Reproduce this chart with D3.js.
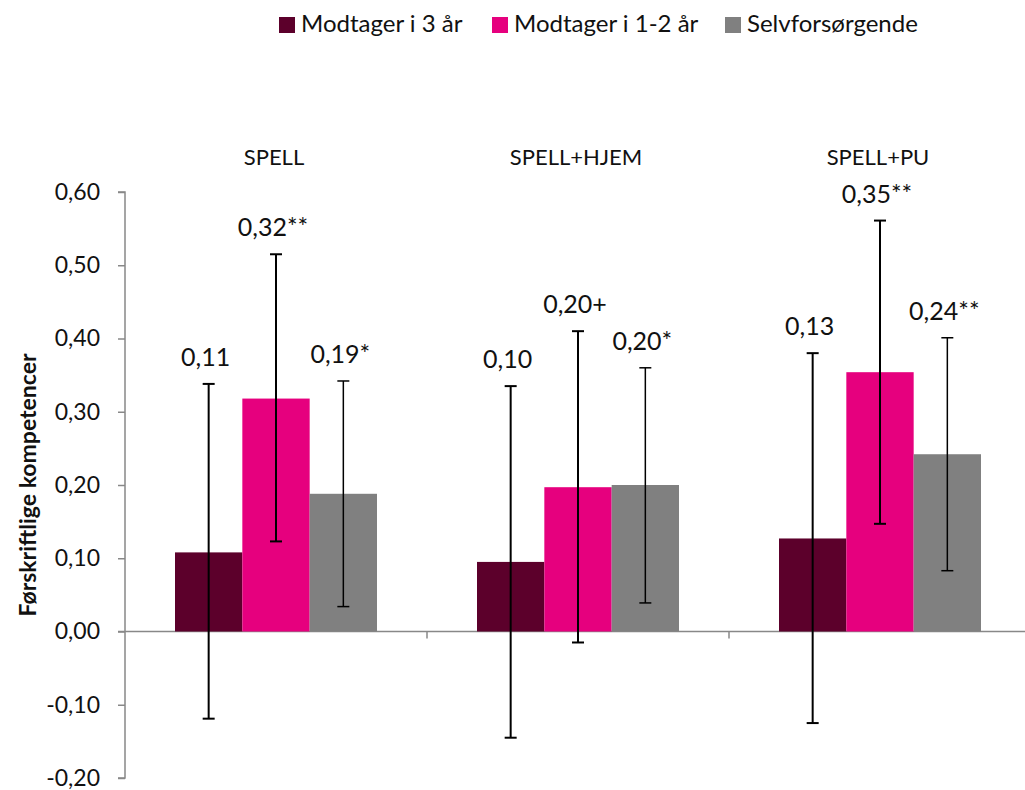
<!DOCTYPE html>
<html>
<head>
<meta charset="utf-8">
<script src="https://cdn.jsdelivr.net/npm/d3@7"></script>
<style>
  body { margin: 0; background: #fff; }
  text { font-family: Lato, "Open Sans", sans-serif; fill: #111; }
</style>
</head>
<body>
<svg id="chart" width="1025" height="790"></svg>
<script>
// data
const groups = ["SPELL", "SPELL+HJEM", "SPELL+PU"];
const series = ["Modtager i 3 år", "Modtager i 1-2 år", "Selvforsørgende"];
const colors = ["#5c002b", "#e6007e", "#808080"];

// values per series, one entry per group
const values = [
  [0.108, 0.095, 0.127],
  [0.318, 0.197, 0.354],
  [0.188, 0.200, 0.242]
];
const errLow = [
  [-0.119, -0.145, -0.125],
  [0.123, -0.015, 0.147],
  [0.034, 0.039, 0.083]
];
const errHigh = [
  [0.338, 0.335, 0.380],
  [0.515, 0.410, 0.561],
  [0.342, 0.360, 0.401]
];
const labels = [
  ["0,11", "0,10", "0,13"],
  ["0,32**", "0,20+", "0,35**"],
  ["0,19*", "0,20*", "0,24**"]
];
const yTicks = [-0.2, -0.1, 0, 0.1, 0.2, 0.3, 0.4, 0.5, 0.6];
const yTitle = "Førskriftlige kompetencer";

const svg = d3.select("#chart");

const y = d3.scaleLinear().domain([-0.2, 0.6]).range([778, 192]);
const x0 = d3.scaleBand().domain(groups).range([125, 1031]);
const x1 = d3.scaleBand().domain(series).range([50, x0.bandwidth() - 50]);

const fmt = d => d3.format(".2f")(d).replace(".", ",").replace("\u2212", "-");

// y axis
svg.append("g")
  .attr("transform", "translate(125,0)")
  .call(d3.axisLeft(y).tickValues(yTicks).tickSize(7).tickPadding(18).tickFormat(fmt))
  .call(g => g.selectAll("path, line").attr("stroke", "#888").attr("stroke-width", 1.5))
  .call(g => g.select(".domain").attr("d", "M-7,192H0V778H-7"))
  .call(g => g.selectAll("text").attr("font-size", 23).attr("fill", "#111"));

// x axis on zero
svg.append("g")
  .attr("transform", `translate(0,${y(0)})`)
  .call(d3.axisBottom(x0).tickSize(0).tickFormat(""))
  .call(g => g.select(".domain").attr("d", "M118,0H1025").attr("stroke", "#888").attr("stroke-width", 1.5))
  .call(g => g.selectAll(".tick").remove());

svg.append("g").selectAll("line")
  .data(groups.slice(1))
  .join("line")
  .attr("x1", d => x0(d)).attr("x2", d => x0(d))
  .attr("y1", y(0)).attr("y2", y(0) + 7)
  .attr("stroke", "#888").attr("stroke-width", 1.5);

// group titles
svg.append("g").selectAll("text")
  .data(groups)
  .join("text")
  .attr("x", d => x0(d) + x0.bandwidth() / 2 - 2)
  .attr("y", 165)
  .attr("text-anchor", "middle")
  .attr("font-size", 22)
  .text(d => d);

// bars, error bars and labels
series.forEach((s, si) => {
  const g = svg.append("g");
  const cx = gi => x0(groups[gi]) + x1(s) + x1.bandwidth() / 2;

  g.selectAll("rect")
    .data(values[si])
    .join("rect")
    .attr("x", (d, gi) => x0(groups[gi]) + x1(s))
    .attr("width", x1.bandwidth())
    .attr("y", d => y(Math.max(0, d)))
    .attr("height", d => Math.abs(y(d) - y(0)))
    .attr("fill", colors[si]);

  const sw = si === 2 ? 1.5 : 2;
  groups.forEach((grp, gi) => {
    const lo = y(errLow[si][gi]), hi = y(errHigh[si][gi]);
    g.append("line").attr("x1", cx(gi)).attr("x2", cx(gi)).attr("y1", lo).attr("y2", hi)
      .attr("stroke", "#000").attr("stroke-width", sw);
    [lo, hi].forEach(v => g.append("line")
      .attr("x1", cx(gi) - 6).attr("x2", cx(gi) + 6).attr("y1", v).attr("y2", v)
      .attr("stroke", "#000").attr("stroke-width", sw));
    g.append("text")
      .attr("x", cx(gi) - 3)
      .attr("y", hi - 18)
      .attr("text-anchor", "middle")
      .attr("font-size", 25)
      .text(labels[si][gi]);
  });
});

// y title
svg.append("text")
  .attr("transform", `translate(30,${(y(0.6) + y(-0.2)) / 2}) rotate(-90)`)
  .attr("text-anchor", "middle")
  .attr("dominant-baseline", "middle")
  .attr("font-size", 23)
  .attr("font-weight", "bold")
  .text(yTitle);

// legend
const legendX = [279, 492, 725];
const legend = svg.append("g");
series.forEach((s, i) => {
  legend.append("rect").attr("x", legendX[i]).attr("y", 17).attr("width", 16).attr("height", 16).attr("fill", colors[i]);
  legend.append("text").attr("x", legendX[i] + 22).attr("y", 32).attr("font-size", 24).text(s);
});
</script>
</body>
</html>
